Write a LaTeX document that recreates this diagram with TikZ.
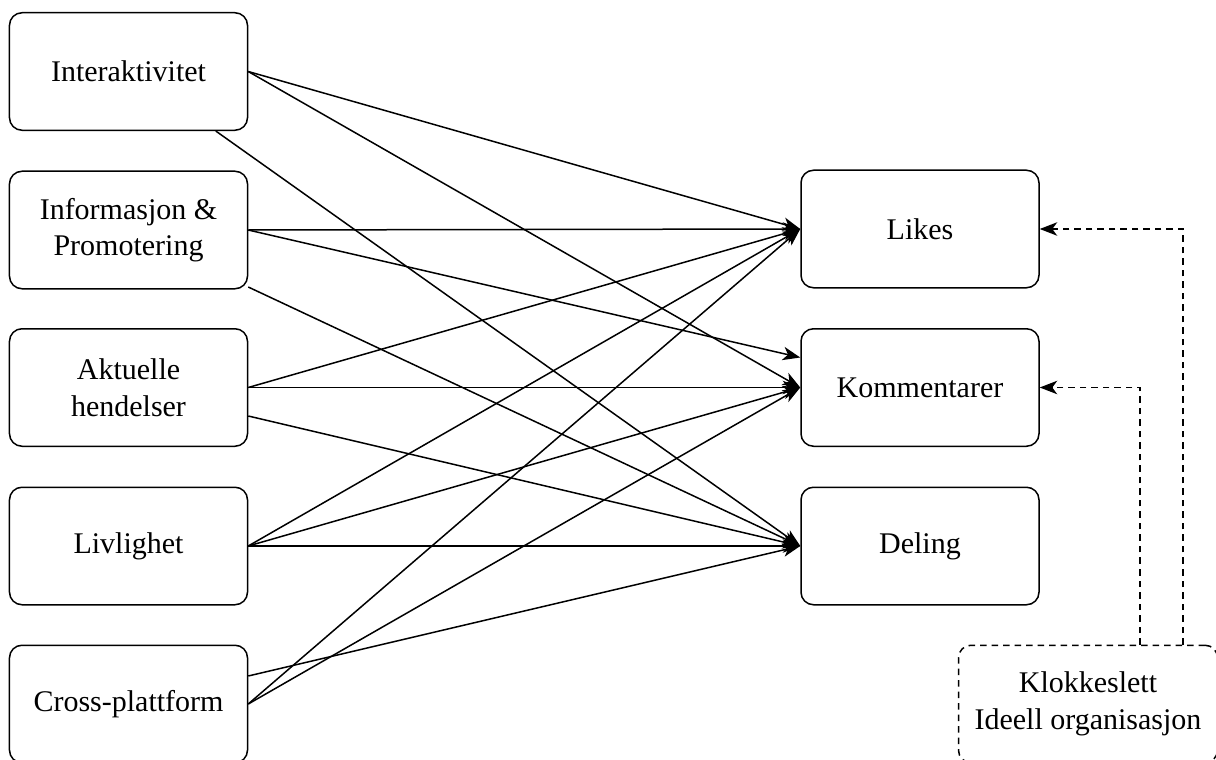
\documentclass[tikz,border=0pt]{standalone}
\usepackage{fontspec}
\setmainfont{Liberation Serif}
\usetikzlibrary{arrows.meta}
\begin{document}
\begin{tikzpicture}[x=0.4pt, y=-0.4pt,
        box/.style={draw, rounded corners=5pt, line width=0.6pt, minimum width=95.2pt, minimum height=47pt, align=center, font=\fontsize{12}{14.6}\selectfont},
        pil/.style={-{Stealth[length=7pt, width=5.4pt, inset=2pt]}, line width=0.6pt},
        stipl/.style={dash pattern=on 2.6pt off 2pt}]
        \useasboundingbox (0, 0) rectangle (1216, 760);
        \node[box] (int) at (128.5, 71.5) {Interaktivitet};
        \node[box] (inf) at (128.5, 230) {Informasjon \&\\Promotering};
        \node[box] (akt) at (128.5, 387.5) {Aktuelle\\hendelser};
        \node[box] (liv) at (128.5, 546) {Livlighet};
        \node[box] (cro) at (128.5, 704) {Cross-plattform};
        \node[box] (lik) at (920, 229) {Likes};
        \node[box] (kom) at (920, 387.5) {Kommentarer};
        \node[box] (del) at (920, 546) {Deling};
        \node[box, stipl, minimum width=103.6pt] (klo) at (1088, 704) {Klokkeslett\\Ideell organisasjon};
        \draw[pil] (int.east) -- (lik.west);
        \draw[pil] (int.east) -- (kom.west);
        \draw[pil] ([xshift=-13pt]int.south east) -- (del.west);
        \draw[pil] (inf.east) -- (lik.west);
        \draw[pil] (inf.east) -- ([yshift=12pt]kom.west);
        \draw[pil] ([yshift=1pt]inf.south east) -- (del.west);
        \draw[pil] (akt.east) -- (lik.west);
        \draw[pil] (akt.east) -- (kom.west);
        \draw[pil] ([yshift=-11.4pt]akt.east) -- (del.west);
        \draw[pil] (liv.east) -- (lik.west);
        \draw[pil] (liv.east) -- (kom.west);
        \draw[pil] (liv.east) -- (del.west);
        \draw[pil] ([yshift=11.2pt]cro.east) -- (del.west);
        \draw[pil] (cro.east) -- (lik.west);
        \draw[pil] (cro.east) -- (kom.west);
        \draw[pil, stipl] ([xshift=38pt]klo.north) |- (lik.east);
        \draw[pil, stipl] ([xshift=20.8pt]klo.north) |- (kom.east);
\end{tikzpicture}
\end{document}
